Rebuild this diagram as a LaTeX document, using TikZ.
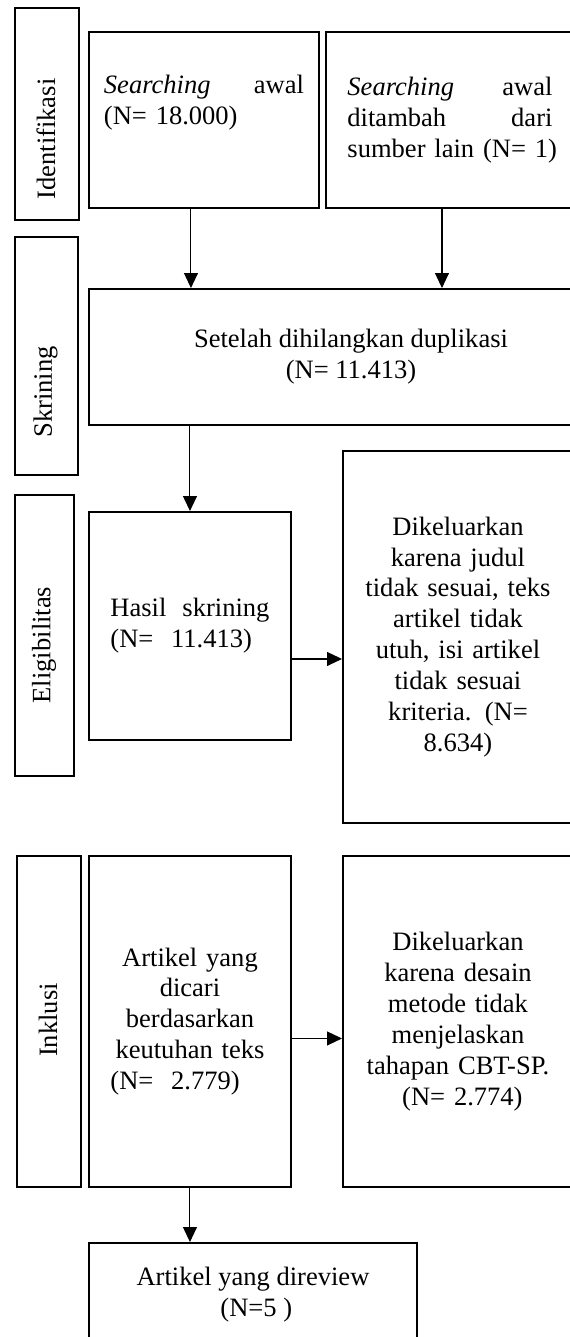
\documentclass[tikz,border=0pt]{standalone}
\usepackage{fontspec}
\setmainfont{Liberation Serif}
\usetikzlibrary{arrows.meta}
\newcommand{\boxfont}{\fontsize{15.1}{17.6}\selectfont}

\begin{document}
\begin{tikzpicture}[x=0.2mm, y=-0.2mm,
  box/.style={draw, line width=1.1pt, anchor=north west, inner sep=0pt, font=\boxfont},
  tagbox/.style={draw, line width=1.1pt, anchor=north west, inner sep=0pt},
  tag/.style={rotate=90, inner sep=0pt, font=\boxfont},
  arr/.style={-{Triangle[length=0.3cm, width=0.28cm]}, line width=0.6pt}]
  \useasboundingbox (0,0) rectangle (570,1337);

  % Stage labels on the left
  \node[tagbox, minimum width=1.28cm, minimum height=4.24cm] (identbox) at (14,7) {};
  \node[tag] (ident) at (46,139) {Identifikasi};
  \node[tagbox, minimum width=1.26cm, minimum height=4.76cm] (skrinbox) at (14,236) {};
  \node[tag] (skrin) at (45.5,392) {Skrining};
  \node[tagbox, minimum width=1.18cm, minimum height=5.62cm] (eligbox) at (14,494) {};
  \node[tag] (elig) at (44,645) {Eligibilitas};
  \node[tagbox, minimum width=1.28cm, minimum height=6.62cm] (inklbox) at (16,855) {};
  \node[tag] (inkl) at (48,1020) {Inklusi};

  % Identification
  \node[box, minimum width=4.6cm, minimum height=3.52cm, text width=4.0cm, align=left] (srch) at (88,31)
    {\textit{Searching}\hfill awal\\(N= 18.000)\\\strut};
  \node[box, minimum width=4.96cm, minimum height=3.52cm, text width=4.1cm, align=left] (srchlain) at (325,31)
    {\textit{Searching}\hfill awal\\ditambah\hfill dari\\\mbox{sumber lain (N= 1)}};

  % Screening
  \node[box, minimum width=10.48cm, minimum height=2.72cm, align=center] (setelah) at (88,288)
    {Setelah dihilangkan duplikasi\\(N= 11.413)};

  % Eligibility
  \node[box, minimum width=4.04cm, minimum height=4.56cm, text width=3.18cm, align=left] (hasil) at (88,511)
    {Hasil\hfill skrining\\(N=\ \ 11.413)};
  \node[box, minimum width=4.6cm, minimum height=7.44cm, text width=4.2cm, align=center] (keluar1) at (342,450)
    {Dikeluarkan\\karena judul\\tidak sesuai, teks\\artikel tidak\\utuh, isi artikel\\tidak sesuai\\kriteria. (N=\\8.634)};

  % Inclusion
  \node[box, minimum width=4.04cm, minimum height=6.62cm, text width=3.18cm, align=center] (artikel) at (88,855)
    {Artikel yang\\dicari\\berdasarkan\\keutuhan teks\\(N=\ \ 2.779)\hfill\null};
  \node[box, minimum width=4.6cm, minimum height=6.62cm, text width=4.2cm, align=center] (keluar2) at (342,855)
    {Dikeluarkan\\karena desain\\metode tidak\\menjelaskan\\tahapan CBT-SP.\\\ (N= 2.774)};
  \node[box, minimum width=6.56cm, minimum height=2.08cm, align=center] (review) at (88,1242)
    {Artikel yang direview\\\ (N=5 )};

  % Arrows
  \draw[arr] ([xshift=-0.26cm]srch.south) -- ([xshift=-0.26cm]srch.south |- setelah.north);
  \draw[arr] ([xshift=-0.16cm]srchlain.south) -- ([xshift=-0.16cm]srchlain.south |- setelah.north);
  \draw[arr] (setelah.south -| hasil.north) -- (hasil.north);
  \draw[arr] ([yshift=-0.66cm]hasil.east) -- ([yshift=-0.66cm]hasil.east -| keluar1.west);
  \draw[arr] ([yshift=-0.34cm]artikel.east) -- ([yshift=-0.34cm]artikel.east -| keluar2.west);
  \draw[arr] (artikel.south) -- (artikel.south |- review.north);
\end{tikzpicture}
\end{document}
